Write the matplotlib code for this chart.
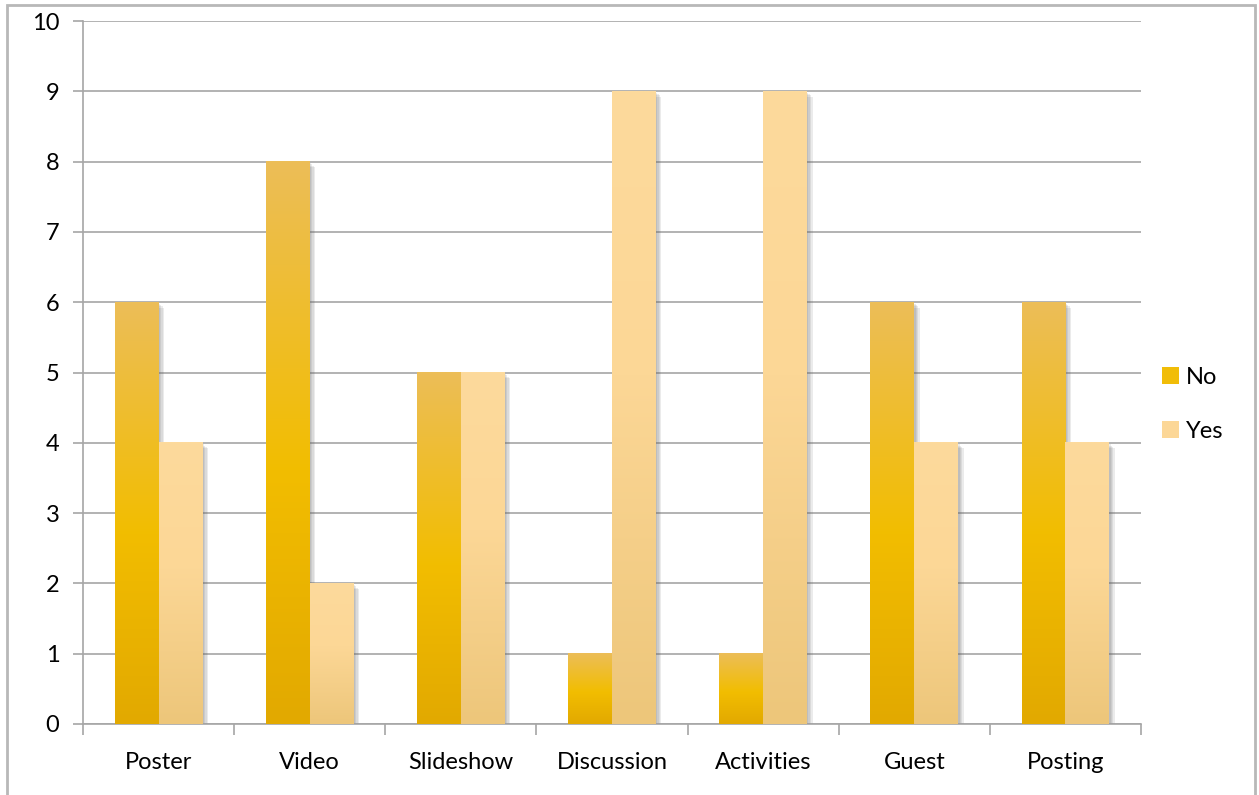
import numpy as np
import matplotlib
matplotlib.use('Agg')
import matplotlib.pyplot as plt
import matplotlib.patheffects as pe
from matplotlib.colors import LinearSegmentedColormap
from matplotlib.patches import Rectangle, Patch

plt.rcParams['font.family'] = ['Lato', 'DejaVu Sans']

categories = ['Poster', 'Video', 'Slideshow', 'Discussion', 'Activities', 'Guest', 'Posting']
no_values = [6, 8, 5, 1, 1, 6, 6]
yes_values = [4, 2, 5, 9, 9, 4, 4]

# gradients run bottom -> top
cmap_no = LinearSegmentedColormap.from_list('no', [(0, '#E2A900'), (0.45, '#F2BD00'), (1, '#ECBE58')])
cmap_yes = LinearSegmentedColormap.from_list('yes', [(0, '#EDC67A'), (0.55, '#FCD796'), (1, '#FDDA9C')])

fig = plt.figure(figsize=(12.59, 7.95), dpi=100)
ax = fig.add_axes([83 / 1259, 1 - 724 / 795, (1141 - 83) / 1259, (724 - 21) / 795])

x = np.arange(len(categories))
w = 0.29
grad = np.linspace(0, 1, 256).reshape(-1, 1)

# soft shadow, a few stacked offsets
shadow = [pe.SimplePatchShadow(offset=(d, -d), shadow_rgbFace='#606060', alpha=0.12) for d in (4, 3, 2, 1)]

for vals, off, cmap in [(no_values, -w / 2, cmap_no), (yes_values, w / 2, cmap_yes)]:
    bars = ax.bar(x + off, vals, width=w, color=cmap(0.5), zorder=2,
                  path_effects=shadow + [pe.Normal()])
    for b in bars:
        x0, y0 = b.get_x(), b.get_y()
        ax.imshow(grad, cmap=cmap, origin='lower', aspect='auto', zorder=3,
                  extent=(x0, x0 + b.get_width(), y0, y0 + b.get_height()))

ax.set_xlim(-0.5, len(categories) - 0.5)
ax.set_ylim(0, 10)
ax.set_yticks(range(0, 11))
ax.yaxis.grid(True, color='#A6A6A6', linewidth=1.2, zorder=0)
ax.set_axisbelow(True)

ax.set_xticks(x)
ax.set_xticklabels(categories)
ax.set_xticks(np.arange(-0.5, len(categories)), minor=True)
ax.tick_params(axis='x', which='major', length=0, pad=20, labelsize=17)
ax.tick_params(axis='x', which='minor', length=8, width=1.2, color='#A6A6A6')
ax.tick_params(axis='y', length=7, width=1.2, color='#A6A6A6', pad=10, labelsize=17)

for s in ['top', 'right']:
    ax.spines[s].set_visible(False)
for s in ['left', 'bottom']:
    ax.spines[s].set_color('#A6A6A6')
    ax.spines[s].set_linewidth(1.2)

handles = [Patch(facecolor=cmap_no(0.5), label='No'), Patch(facecolor=cmap_yes(0.6), label='Yes')]
ax.legend(handles=handles, loc='center left', bbox_to_anchor=(1.0, 0.455), frameon=False,
          fontsize=17, handlelength=0.7, handleheight=0.7, handletextpad=0.3, labelspacing=1.4)

fig.patches.append(Rectangle((7 / 1259, -0.01), (1255 - 7) / 1259, 1.01 - 5 / 795,
                             transform=fig.transFigure, fill=False, edgecolor='#B8B8B8', linewidth=2))

fig.savefig('out.png', dpi=100)
